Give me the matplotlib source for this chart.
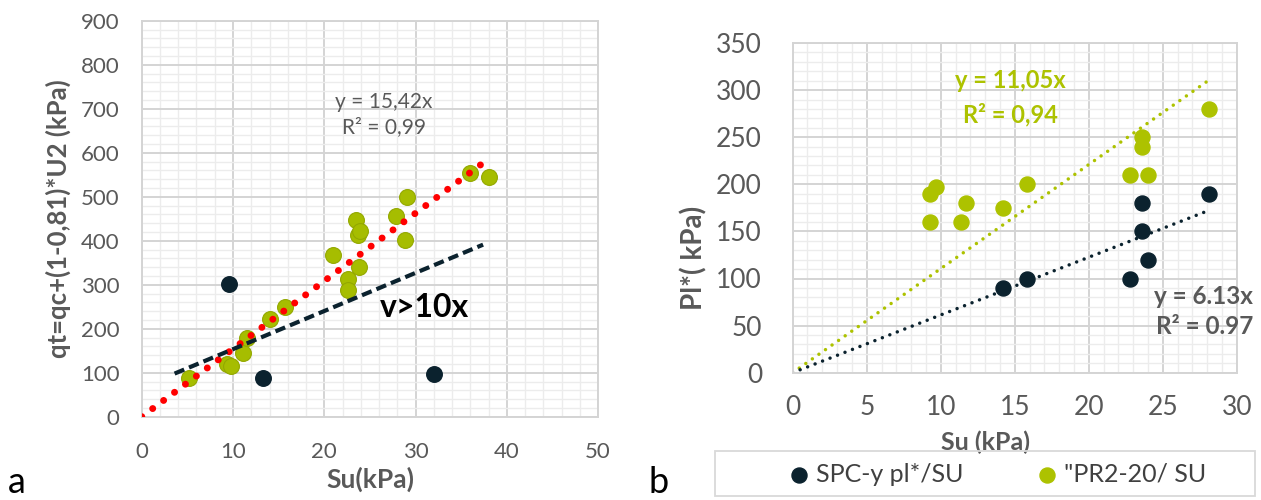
import numpy as np
import matplotlib
matplotlib.use("Agg")
import matplotlib.pyplot as plt
from matplotlib.ticker import MultipleLocator
from matplotlib.patches import Rectangle

plt.rcParams['font.family'] = ['Lato', 'DejaVu Sans']

# panel a: green points (Su, qt)
su_a_green = [5.2, 9.3, 9.8, 11.1, 11.5, 14.0, 15.7, 21.0, 22.6, 22.6, 23.5, 23.7, 23.9, 23.8, 27.9, 28.8, 29.1, 36.0, 38.1]
qt_a_green = [88, 120, 115, 144, 178, 223, 249, 367, 314, 287, 448, 412, 421, 340, 456, 402, 500, 553, 544]
# panel a: dark points
su_a_dark = [9.6, 13.3, 32.0]
qt_a_dark = [302, 88, 98]
slope_a = 15.42
fit_a_end = 37.3
limit_su = [3.6, 37.4]
limit_qt = [98, 391]

# panel b
su_b_spc = [14.2, 15.8, 22.8, 23.6, 23.6, 24.0, 28.1]
pl_b_spc = [90, 100, 100, 150, 180, 120, 190]
su_b_pr = [9.25, 9.65, 9.25, 11.4, 11.7, 14.2, 15.8, 22.8, 24.0, 23.6, 23.6, 28.1]
pl_b_pr = [190, 197, 160, 160, 180, 175, 200, 210, 210, 240, 250, 280]
slope_spc = 6.13
slope_pr = 11.05
fit_b_end = 28.0

GREEN = '#a6bd00'
GREEN_EDGE = '#93a800'
GREEN_B = '#adc200'
DARK = '#0b222e'
GREY = '#595959'

fig = plt.figure(figsize=(12.61, 5.0), dpi=100)
ax1 = fig.add_axes([0.1124, 0.1666, 0.3619, 0.792])
ax2 = fig.add_axes([0.6286, 0.2546, 0.3523, 0.6594])


def style(ax, xmaj, xmin, ymaj, ymin, fs, xpad, ypad):
    ax.xaxis.set_major_locator(MultipleLocator(xmaj))
    ax.xaxis.set_minor_locator(MultipleLocator(xmin))
    ax.yaxis.set_major_locator(MultipleLocator(ymaj))
    ax.yaxis.set_minor_locator(MultipleLocator(ymin))
    ax.grid(True, which='major', color='#d4d4d4', lw=1.4, zorder=0)
    ax.grid(True, which='minor', color='#ececec', lw=1.0, zorder=0)
    ax.set_axisbelow(True)
    for s in ax.spines.values():
        s.set_color('#d4d4d4')
        s.set_linewidth(1.4)
    ax.tick_params(which='both', length=0, labelsize=fs, colors=GREY)
    ax.tick_params(axis='x', pad=xpad)
    ax.tick_params(axis='y', pad=ypad)


# ---- panel a
style(ax1, 10, 2, 100, 20, 16, 18, 16)
ax1.set_xlim(0, 50)
ax1.set_ylim(0, 900)
ax1.scatter(su_a_green, qt_a_green, s=130, color=GREEN, edgecolor=GREEN_EDGE, lw=0.8, zorder=3)
ax1.scatter(su_a_dark, qt_a_dark, s=125, color=DARK, zorder=3)
xf = np.array([0, fit_a_end])
ax1.plot(xf, slope_a * xf, color='red', lw=5, ls=(0, (0.01, 1.95)), dash_capstyle='round', zorder=4)
ax1.plot(limit_su, limit_qt, color=DARK, lw=3.0, ls=(0, (2.5, 1.25)), zorder=4)
ax1.text(26.5, 686, 'y = 15,42x\nR² = 0,99', color=GREY, fontsize=15, ha='center', va='center',
         linespacing=1.3)
ax1.text(26.1, 226, 'v>10x', color='black', fontsize=23, fontweight='bold', ha='left', va='baseline')
ax1.set_xlabel('Su(kPa)', fontsize=19, fontweight='bold', color=GREY)
ax1.xaxis.set_label_coords(0.5, -0.127)
ax1.set_ylabel('qt=qc+(1-0,81)*U2 (kPa)', fontsize=18.5, fontweight='bold', color=GREY)
ax1.yaxis.set_label_coords(-0.155, 0.5)

# ---- panel b
style(ax2, 5, 1, 50, 10, 19, 16, 22)
ax2.set_xlim(0, 30)
ax2.set_ylim(0, 350)
ax2.scatter(su_b_spc, pl_b_spc, s=117, color=DARK, zorder=3, label='SPC-y pl*/SU')
ax2.scatter(su_b_pr, pl_b_pr, s=117, color=GREEN_B, zorder=3, label='"PR2-20/ SU')
xb = np.array([0, fit_b_end])
ax2.plot(xb, slope_pr * xb, color=GREEN_B, lw=2.5, ls=(0, (0.01, 2.3)), dash_capstyle='round', zorder=2)
ax2.plot(xb, slope_spc * xb, color=DARK, lw=2.5, ls=(0, (0.01, 2.3)), dash_capstyle='round', zorder=2)
ax2.text(14.7, 310, 'y = 11,05x', color=GREEN_B, fontsize=17, fontweight='bold', ha='center', va='center')
ax2.text(14.7, 274, 'R² = 0,94', color=GREEN_B, fontsize=17, fontweight='bold', ha='center', va='center')
ax2.text(31.1, 81, 'y = 6.13x', color=GREY, fontsize=17.5, fontweight='bold', ha='right', va='center')
ax2.text(31.1, 49, 'R² = 0.97', color=GREY, fontsize=17.5, fontweight='bold', ha='right', va='center')
ax2.set_xlabel('Su (kPa)', fontsize=18, fontweight='bold', color=GREY)
ax2.xaxis.set_label_coords(0.434, -0.176)
ax2.set_ylabel('Pl*( kPa)', fontsize=20, fontweight='bold', color=GREY)
ax2.yaxis.set_label_coords(-0.191, 0.349)

# legend box and entries
fig.patches.append(Rectangle((715 / 1261, 1 - 496 / 500), 540 / 1261, 45.3 / 500,
                             transform=fig.transFigure, fill=False, edgecolor='#d9d9d9', lw=1.3))
leg = fig.legend(loc='center left', bbox_to_anchor=(791.5 / 1261, 1 - 474 / 500), ncol=2, fontsize=18,
                 frameon=False, handlelength=0.6, handletextpad=0.38, columnspacing=3.05,
                 borderpad=0, borderaxespad=0)
for t in leg.get_texts():
    t.set_color('#404040')

fig.text(0.006, 0.002, 'a', fontsize=26, color='black', va='bottom')
fig.text(0.514, 0.002, 'b', fontsize=26, color='black', va='bottom')

fig.savefig('out.png', dpi=100, facecolor='white')
